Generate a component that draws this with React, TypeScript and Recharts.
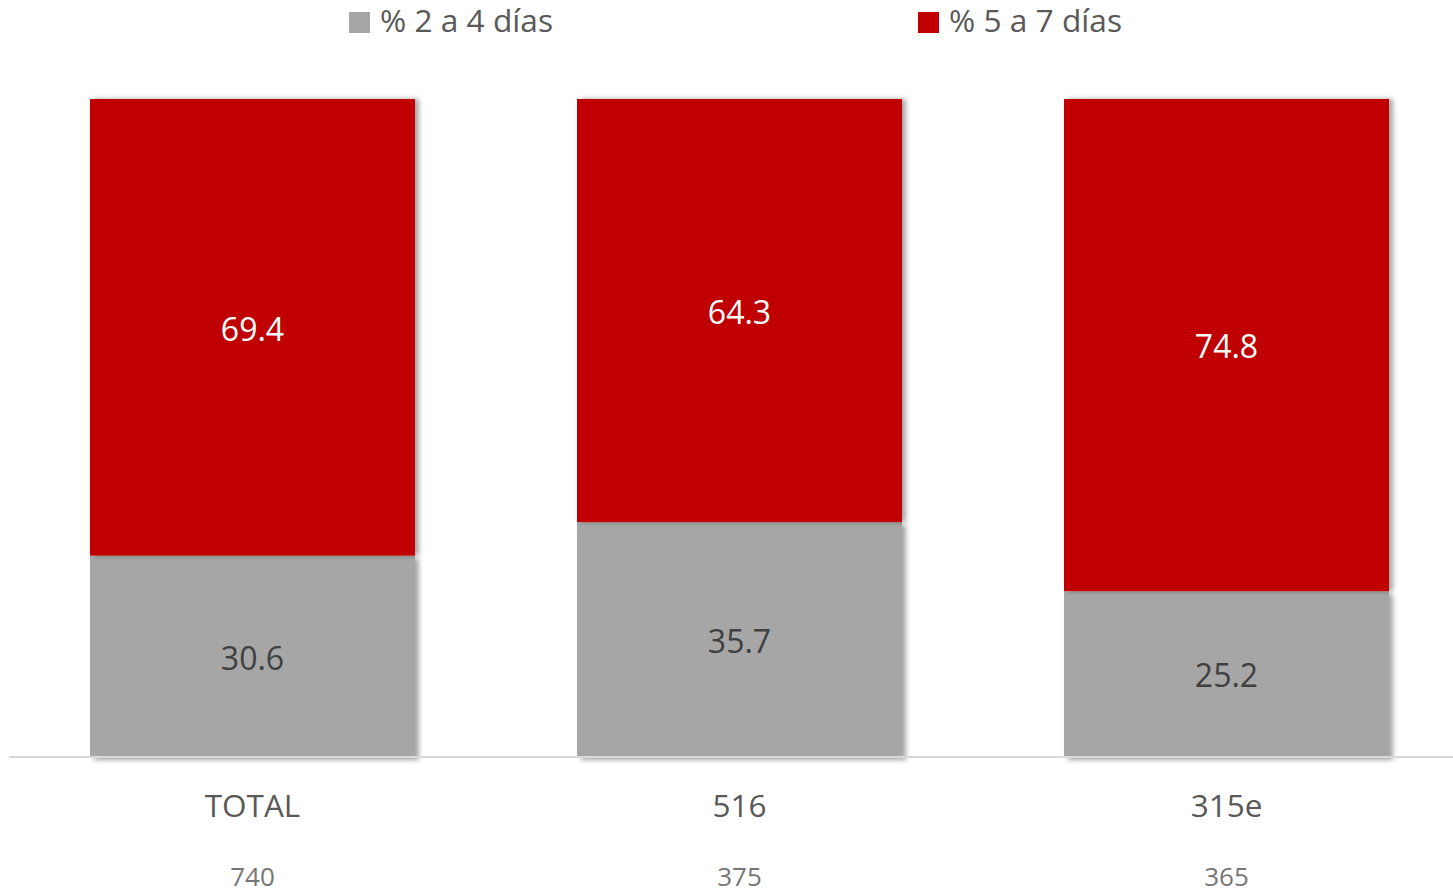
import { BarChart, Bar, XAxis, YAxis, LabelList, Legend } from 'recharts';

const categories = ['TOTAL', '516', '315e'];
const sampleSizes = [740, 375, 365];
const pct2to4 = [30.6, 35.7, 25.2];
const pct5to7 = [69.4, 64.3, 74.8];
const seriesNames = ['% 2 a 4 días', '% 5 a 7 días'];

const GRAY = '#a6a6a6';
const RED = '#c00000';
const FONT = "'Open Sans', 'Noto Sans', sans-serif";

const chartData = categories.map((name, i) => ({
  name,
  n: sampleSizes[i],
  low: pct2to4[i],
  high: pct5to7[i],
}));

const CategoryTick = (props: any) => {
  const { x, y, payload } = props;
  const i = payload.index;
  return (
    <g fontFamily={FONT}>
      <text x={x} y={y + 60} textAnchor="middle" fontSize={31.5} fill="#595959">
        {categories[i]}
      </text>
      <text x={x} y={y + 129} textAnchor="middle" fontSize={26} fill="#767676">
        {sampleSizes[i]}
      </text>
    </g>
  );
};

const shadowShape = (filterId: string) => (props: any) => {
  const { x, y, width, height, fill } = props;
  return <rect x={x} y={y} width={width} height={height} fill={fill} filter={`url(#${filterId})`} />;
};

const legendPos = [349, 918];

const LegendContent = () => (
  <div style={{ position: 'relative', height: 40, width: 1453, fontFamily: FONT }}>
    {seriesNames.map((s, i) => (
      <div
        key={s}
        style={{ position: 'absolute', left: legendPos[i], top: 0, height: 40, display: 'flex', alignItems: 'center' }}
      >
        <span style={{ width: 21, height: 21, background: i === 0 ? GRAY : RED, marginRight: 10, marginTop: 4 }} />
        <span style={{ fontSize: 31.7, color: '#595959', lineHeight: '40px' }}>{s}</span>
      </div>
    ))}
  </div>
);

export default function App() {
  return (
    <div style={{ position: 'absolute', left: 0, top: 0, width: 1453, height: 892, overflow: 'hidden', background: '#fff' }}>
      <svg width={0} height={0} style={{ position: 'absolute' }}>
        <defs>
          <filter id="shadowFull" x="-10%" y="-10%" width="130%" height="130%">
            <feDropShadow dx={4} dy={3} stdDeviation={2.5} floodColor="#000" floodOpacity={0.35} />
          </filter>
          <filter id="shadowSide" x="-10%" y="-10%" width="130%" height="130%">
            <feDropShadow dx={4} dy={0} stdDeviation={2.5} floodColor="#000" floodOpacity={0.35} />
          </filter>
        </defs>
      </svg>
      <BarChart
        width={1470}
        height={892}
        data={chartData}
        margin={{ top: 59, right: 0, bottom: 0, left: 9 }}
        barSize={325}
      >
        <Legend
          verticalAlign="top"
          align="left"
          content={<LegendContent />}
          wrapperStyle={{ top: 0, left: 0, height: 40 }}
        />
        <XAxis
          dataKey="name"
          height={135}
          tickLine={false}
          tickSize={0}
          tickMargin={0}
          axisLine={{ stroke: '#d9d9d9', strokeWidth: 2 }}
          tick={<CategoryTick />}
          interval={0}
        />
        <YAxis hide domain={[0, 100]} />
        <Bar dataKey="low" stackId="a" fill={GRAY} name={seriesNames[0]} isAnimationActive={false} shape={shadowShape('shadowFull')}>
          <LabelList dataKey="low" position="center" fill="#404040" fontSize={32} fontFamily={FONT} dy={2} />
        </Bar>
        <Bar dataKey="high" stackId="a" fill={RED} name={seriesNames[1]} isAnimationActive={false} shape={shadowShape('shadowSide')}>
          <LabelList dataKey="high" position="center" fill="#ffffff" fontSize={32} fontFamily={FONT} dy={2} />
        </Bar>
      </BarChart>
    </div>
  );
}
